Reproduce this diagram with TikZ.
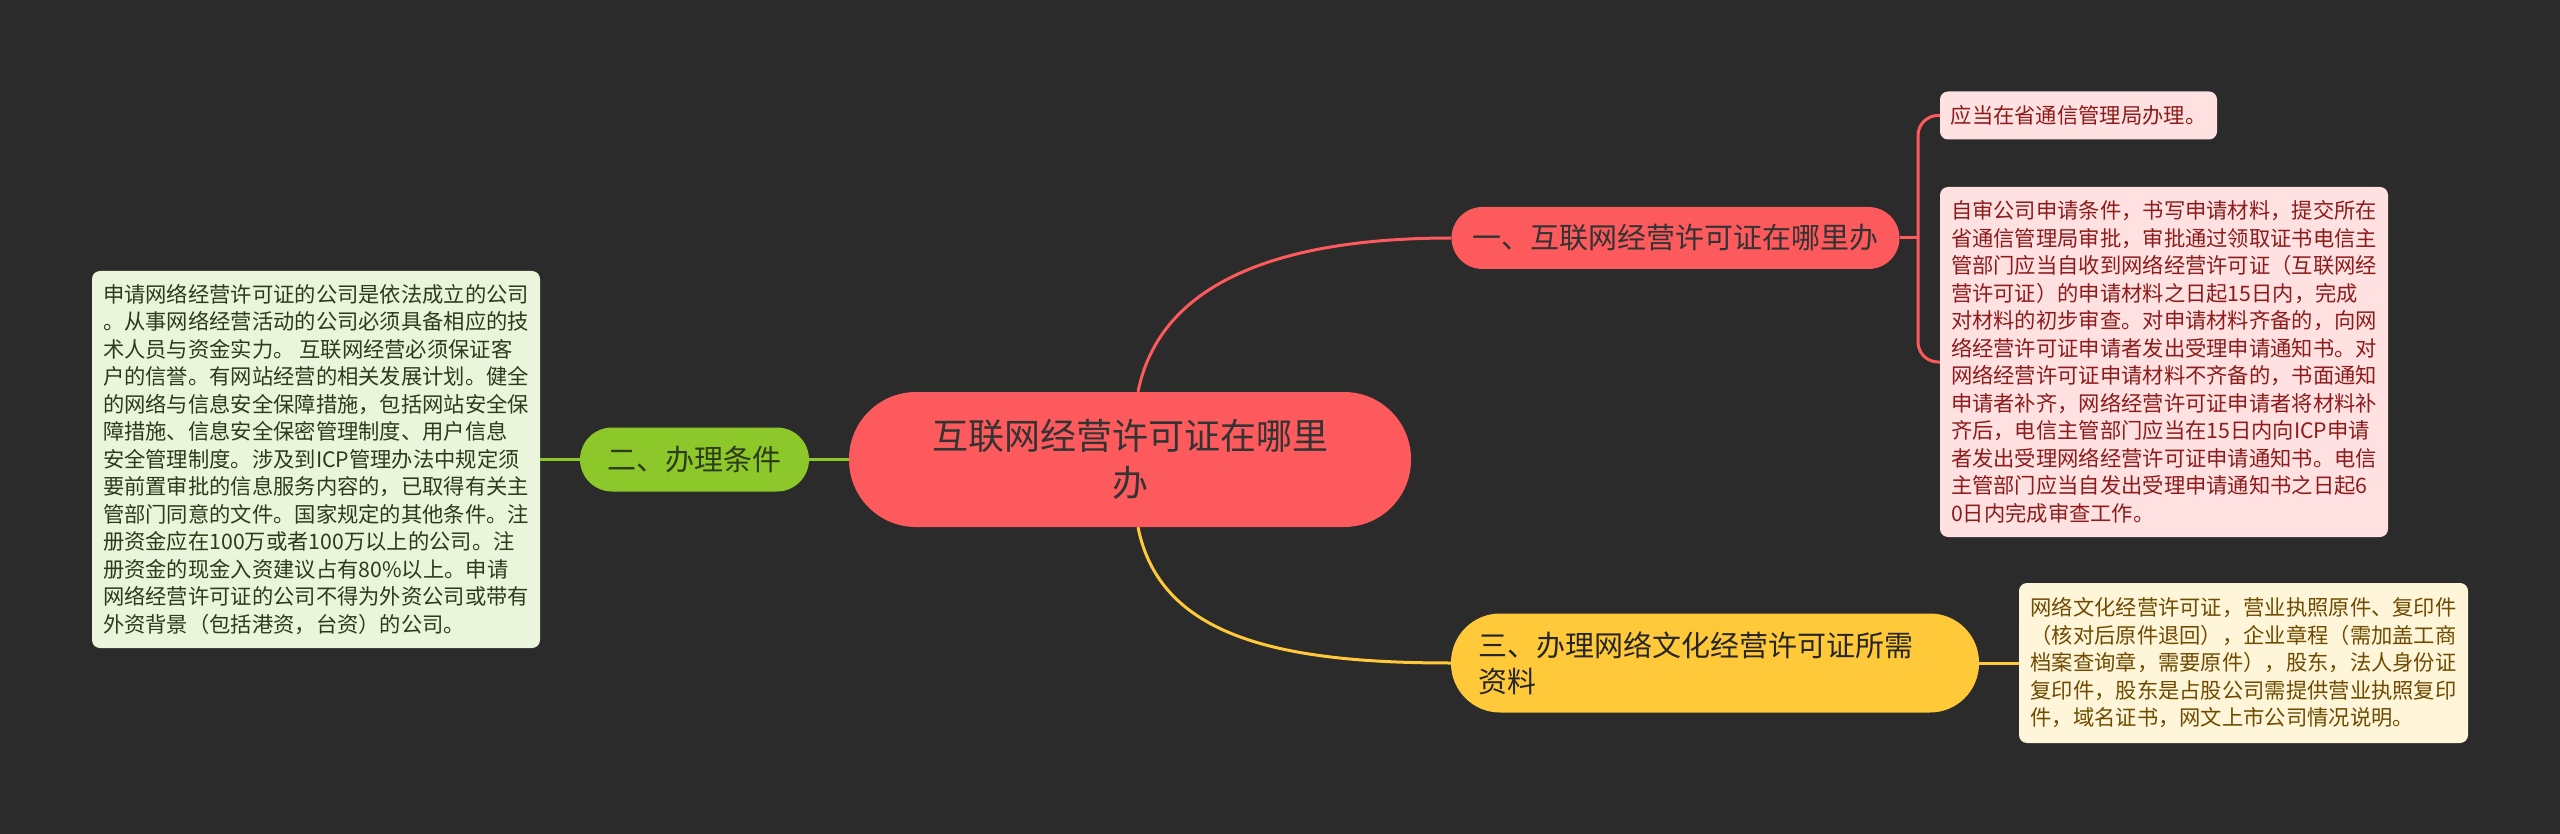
\documentclass[tikz,border=0pt]{standalone}
\usepackage{fontspec}
\newfontfamily\cjk{Noto Sans CJK SC}
\definecolor{bg}{HTML}{2B2B2B}
\definecolor{redm}{HTML}{FC5A5C}
\definecolor{greenm}{HTML}{8CC82A}
\definecolor{yellowm}{HTML}{FFC93A}
\definecolor{redleaf}{HTML}{FFE1E1}
\definecolor{greenleaf}{HTML}{EBF5DC}
\definecolor{yellowleaf}{HTML}{FFF5D9}
\definecolor{redtext}{HTML}{8E1B1B}
\definecolor{greentext}{HTML}{2E3B1A}
\definecolor{yellowtext}{HTML}{6E4B00}
\definecolor{darktext}{HTML}{333333}
\tikzset{
  centralbox/.style={fill=redm, text=darktext, rounded corners=67pt, minimum width=562pt, minimum height=135pt, align=center, inner sep=0pt, font={\cjk\fontsize{36}{47}\selectfont}},
  branchbox/.style={text=darktext, inner sep=0pt, align=left, font={\cjk\fontsize{29}{36}\selectfont}},
  leafbox/.style={rounded corners=8pt, inner sep=0pt, align=left, font={\cjk\fontsize{21.3}{27.5}\selectfont}},
  conn/.style={line width=3pt},
}
\begin{document}
\begin{tikzpicture}[x=1pt,y=-1pt]
\useasboundingbox (0,0) rectangle (2560,834);
\fill[bg] (0,0) rectangle (2560,834);

\node[centralbox] (c) at (1130,459.5) {互联网经营许可证在哪里\\办};
\node[branchbox, fill=redm, rounded corners=31pt, minimum width=448pt, minimum height=62pt] (b1) at (1675.5,238) {一、互联网经营许可证在哪里办};
\node[branchbox, fill=greenm, text=greentext, rounded corners=32pt, minimum width=229pt, minimum height=64pt] (b2) at (694.5,459.5) {二、办理条件};
\node[branchbox, fill=yellowm, text=black!85, rounded corners=49pt, minimum width=528pt, minimum height=99pt, inner xsep=27pt, text width=474pt] (b3) at (1715,663) {三、办理网络文化经营许可证所需\\资料};

\node[leafbox, fill=redleaf, text=redtext, minimum width=277pt, minimum height=48pt] (l1) at (2078.5,115.5) {应当在省通信管理局办理。};
\node[leafbox, fill=redleaf, text=redtext, minimum width=448pt, minimum height=350pt] (l2) at (2164,362) {自审公司申请条件，书写申请材料，提交所在\\省通信管理局审批，审批通过领取证书电信主\\管部门应当自收到网络经营许可证（互联网经\\营许可证）的申请材料之日起15日内，完成\\对材料的初步审查。对申请材料齐备的，向网\\络经营许可证申请者发出受理申请通知书。对\\网络经营许可证申请材料不齐备的，书面通知\\申请者补齐，网络经营许可证申请者将材料补\\齐后，电信主管部门应当在15日内向ICP申请\\者发出受理网络经营许可证申请通知书。电信\\主管部门应当自发出受理申请通知书之日起6\\0日内完成审查工作。};
\node[leafbox, fill=yellowleaf, text=yellowtext, minimum width=449pt, minimum height=160pt] (l3) at (2243.5,663) {网络文化经营许可证，营业执照原件、复印件\\（核对后原件退回），企业章程（需加盖工商\\档案查询章，需要原件），股东，法人身份证\\复印件，股东是占股公司需提供营业执照复印\\件，域名证书，网文上市公司情况说明。};
\node[leafbox, fill=greenleaf, text=greentext, minimum width=448pt, minimum height=377pt] (lg) at (316,459.5) {申请网络经营许可证的公司是依法成立的公司\\。从事网络经营活动的公司必须具备相应的技\\术人员与资金实力。 互联网经营必须保证客\\户的信誉。有网站经营的相关发展计划。健全\\的网络与信息安全保障措施，包括网站安全保\\障措施、信息安全保密管理制度、用户信息\\安全管理制度。涉及到ICP管理办法中规定须\\要前置审批的信息服务内容的，已取得有关主\\管部门同意的文件。国家规定的其他条件。注\\册资金应在100万或者100万以上的公司。注\\册资金的现金入资建议占有80\%以上。申请\\网络经营许可证的公司不得为外资公司或带有\\外资背景（包括港资，台资）的公司。};

\coordinate (j) at (1918,238);
\draw[conn, redm] ([xshift=8pt]c.north) .. controls +(22,-110) and +(-171,0) .. (b1.west);
\draw[conn, yellowm] ([xshift=8pt]c.south) .. controls +(22,110) and +(-171,0) .. (b3.west);
\draw[conn, greenm] (c.west) -- (b2.east);
\draw[conn, greenm] (b2.west) -- (lg.east);
\draw[conn, yellowm] (b3.east) -- (l3.west);
\draw[conn, redm] (b1.east) -- (j);
\draw[conn, redm, rounded corners=20pt] (j) |- (l1.west);
\draw[conn, redm, rounded corners=20pt] (j) |- (l2.west);
\end{tikzpicture}
\end{document}
